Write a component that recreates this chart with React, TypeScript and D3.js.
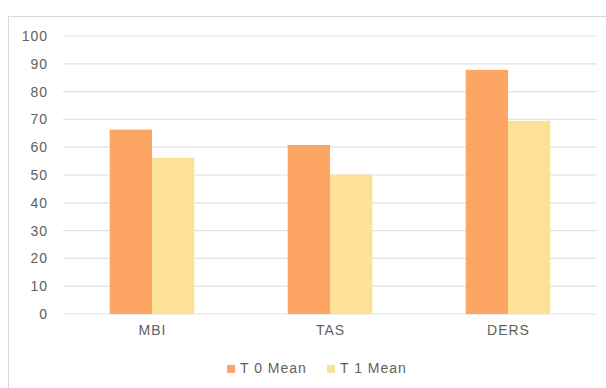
import React from "react";
import * as d3 from "d3";

const categories = ["MBI", "TAS", "DERS"];
const seriesNames = ["T 0 Mean", "T 1 Mean"];
const t0Values = [66.3, 60.8, 87.8];
const t1Values = [56.2, 50.2, 69.5];
const yTicks = [0, 10, 20, 30, 40, 50, 60, 70, 80, 90, 100];
const colors = ["#FDA562", "#FCE196"];

export default function App() {
  const W = 606, H = 388;
  const left = 63, right = 597, top = 36, bottom = 314;
  const x = d3.scaleBand<string>().domain(categories).range([left, right]).paddingInner(0.525).paddingOuter(0.2625);
  const y = d3.scaleLinear().domain([0, 100]).range([bottom, top]);
  const inner = d3.scaleBand<number>().domain([0, 1]).range([0, x.bandwidth()]);
  const series = [t0Values, t1Values];
  const font = "'Liberation Sans', Arial, sans-serif";
  const legendX = [227, 327];
  const textStyle = { letterSpacing: "1px" };
  return (
    <svg width={W} height={H} style={{ position: "absolute", left: 0, top: 0 }}>
      <rect x={0} y={0} width={W} height={H} fill="#fff" />
      <rect x={8.5} y={16.5} width={620} height={400} fill="#fff" stroke="#D9D9D9" />
      {yTicks.map((t) => (
        <g key={t}>
          <line x1={left} x2={right} y1={y(t)} y2={y(t)} stroke="#E2E2E2" strokeWidth={1.2} />
          <text x={48} y={y(t)} dy="0.35em" textAnchor="end" fontSize={14} fill="#5f5f5f" fontFamily={font} style={textStyle}>{t}</text>
        </g>
      ))}
      {categories.map((c, i) => (
        <g key={c}>
          {series.map((s, j) => (
            <rect key={j} x={(x(c) as number) + (inner(j) as number)} y={y(s[i])} width={inner.bandwidth()} height={y(0) - y(s[i])} fill={colors[j]} />
          ))}
          <text x={(x(c) as number) + x.bandwidth() / 2 + 0.5} y={330} dy="0.35em" textAnchor="middle" fontSize={14} fill="#5f5f5f" fontFamily={font} style={textStyle}>{c}</text>
        </g>
      ))}
      {seriesNames.map((n, j) => (
        <g key={n}>
          <rect x={legendX[j]} y={365} width={8} height={8} fill={colors[j]} />
          <text x={legendX[j] + 13} y={368.5} dy="0.35em" fontSize={14} fill="#5f5f5f" fontFamily={font} style={textStyle}>{n}</text>
        </g>
      ))}
    </svg>
  );
}
